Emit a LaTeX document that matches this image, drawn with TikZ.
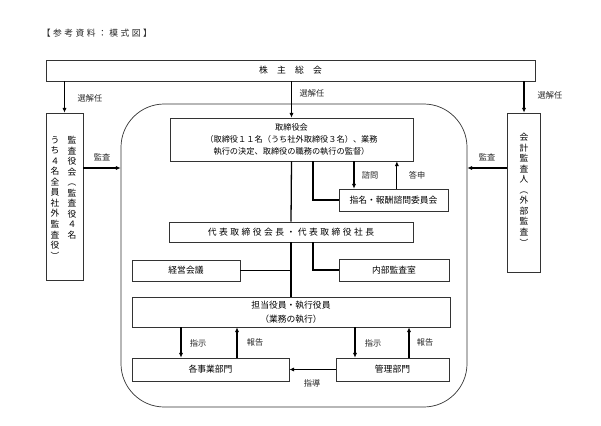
\documentclass[tikz,border=0pt]{standalone}
\usepackage{fontspec}
\newfontfamily\jp{Noto Sans CJK JP}
\newfontfamily\jpwide[LetterSpace=28]{Noto Sans CJK JP}
\usetikzlibrary{arrows.meta}

\tikzset{
  box/.style={draw=black!80, line width=0.6pt, inner sep=0pt, align=center,
    font=\jp\fontsize{7.5}{10.6}\selectfont},
  tate/.style={inner sep=0pt, align=center, anchor=north,
    font=\jp\fontsize{7.5}{9}\selectfont},
  conn/.style={line width=1.1pt},
  arr/.style={line width=1.1pt, -{Latex[length=4pt,width=3.6pt]}},
  lbl/.style={inner sep=0pt, font=\jp\fontsize{7}{8}\selectfont, text=black!85},
}

\begin{document}
\begin{tikzpicture}[x=0.03cm, y=-0.03cm]
  \useasboundingbox (0,0) rectangle (601,425);

  \node[lbl, font=\jpwide\fontsize{7.5}{9}\selectfont] (title) at (97,33) {【参考資料：模式図】};

  % shareholders and the two audit bodies
  \node[box, minimum width=14.67cm, minimum height=0.63cm] (soukai) at (290.5,70.5)
    {株\hspace{7.8pt}主\hspace{7.8pt}総\hspace{7.8pt}会};
  \node[box, minimum width=1.11cm, minimum height=5.01cm] (kansa) at (64.5,196.5) {};
  \node[tate] (kansaR) at (72,136) {監\\査\\役\\会\\︵\\監\\査\\役\\４\\名};
  \node[tate] (kansaL) at (55,136) {う\\ち\\４\\名\\全\\員\\社\\外\\監\\査\\役\\︶};
  \node[box, minimum width=1.0cm, minimum height=4.77cm] (kaikei) at (524,192.5) {};
  \node[tate] (kaikeiT) at (524,133) {会\\計\\監\\査\\人\\︵\\外\\部\\監\\査\\︶};

  \node[box, rounded corners=1.3cm, minimum width=10.38cm, minimum height=9.09cm] (frame) at (294,255.5) {};

  % inside the frame
  \node[box, minimum width=7.29cm, minimum height=1.29cm, font=\jp\fontsize{7}{10.6}\selectfont] (tori) at (291.5,139.5)
    {取締役会\\（取締役１１名（うち社外取締役３名）、業務\\執行の決定、取締役の職務の執行の監督）};
  \node[box, minimum width=3.27cm, minimum height=0.66cm] (shimei) at (393.5,200) {指名・報酬諮問委員会};
  \node[box, minimum width=7.32cm, minimum height=0.6cm, font=\jpwide\fontsize{7.5}{9}\selectfont] (daihyo) at (291,232)
    {代表取締役会長・代表取締役社長};
  \node[box, minimum width=3.24cm, minimum height=0.63cm] (keiei) at (186,270.5) {経営会議};
  \node[box, minimum width=3.3cm, minimum height=0.66cm] (naibu) at (394,270) {内部監査室};
  \node[box, minimum width=9.54cm, minimum height=0.9cm, font=\jp\fontsize{7.5}{12}\selectfont] (tanto) at (291,312)
    {担当役員・執行役員\\（業務の執行）};
  \node[box, minimum width=4.71cm, minimum height=0.69cm] (jigyo) at (210.5,369.5) {各事業部門};
  \node[box, minimum width=3.39cm, minimum height=0.69cm] (kanri) at (392.5,369.5) {管理部門};

  % election
  \draw[arr] (soukai.south -| kansa) -- (kansa.north);
  \draw[arr] (soukai.south -| tori) -- (tori.north);
  \draw[arr] (soukai.south -| kaikei) -- (kaikei.north);
  \node[lbl] (senL) at (90,98) {選解任};
  \node[lbl] (senM) at (312,93) {選解任};
  \node[lbl] (senR) at (550,95) {選解任};

  % audit
  \coordinate (kansaY) at (0,168);
  \draw[arr] (kansa.east |- kansaY) -- (frame.west |- kansaY);
  \draw[arr] (kaikei.west |- kansaY) -- (frame.east |- kansaY);
  \node[lbl] (kansaLbl) at (102,157) {監査};
  \node[lbl] (kaikeiLbl) at (487,157) {監査};

  % board and committee
  \draw[conn] (tori.south) -- (daihyo.north);
  \draw[conn] (daihyo.south) -- (tanto.north);
  \draw[conn] ([xshift=0.645cm]tori.south) |- (shimei.west);
  \draw[arr] ([xshift=-1.185cm]shimei.north |- tori.south) -- ([xshift=-1.185cm]shimei.north);
  \draw[arr] ([xshift=0.1cm]shimei.north) -- ([xshift=0.1cm]shimei.north |- tori.south);
  \node[lbl] (shimon) at (370,175) {諮問};
  \node[lbl] (toushin) at (417,175) {答申};

  \draw[conn] ([xshift=0.66cm]daihyo.south) |- (naibu.west);
  \draw[conn] (keiei.east) -- (keiei.east -| daihyo.south);

  % execution
  \draw[arr] ([xshift=-0.885cm]jigyo.north |- tanto.south) -- ([xshift=-0.885cm]jigyo.north);
  \draw[arr] ([xshift=0.795cm]jigyo.north) -- ([xshift=0.795cm]jigyo.north |- tanto.south);
  \draw[arr] ([xshift=-1.125cm]kanri.north |- tanto.south) -- ([xshift=-1.125cm]kanri.north);
  \draw[arr] ([xshift=0.495cm]kanri.north) -- ([xshift=0.495cm]kanri.north |- tanto.south);
  \node[lbl] (shijiL) at (198,343) {指示};
  \node[lbl] (houkokuL) at (255,342) {報告};
  \node[lbl] (shijiR) at (373,343) {指示};
  \node[lbl] (houkokuR) at (425,342) {報告};

  \draw[arr] (kanri.west) -- (jigyo.east);
  \node[lbl] (shidou) at (312,383) {指導};
\end{tikzpicture}
\end{document}
